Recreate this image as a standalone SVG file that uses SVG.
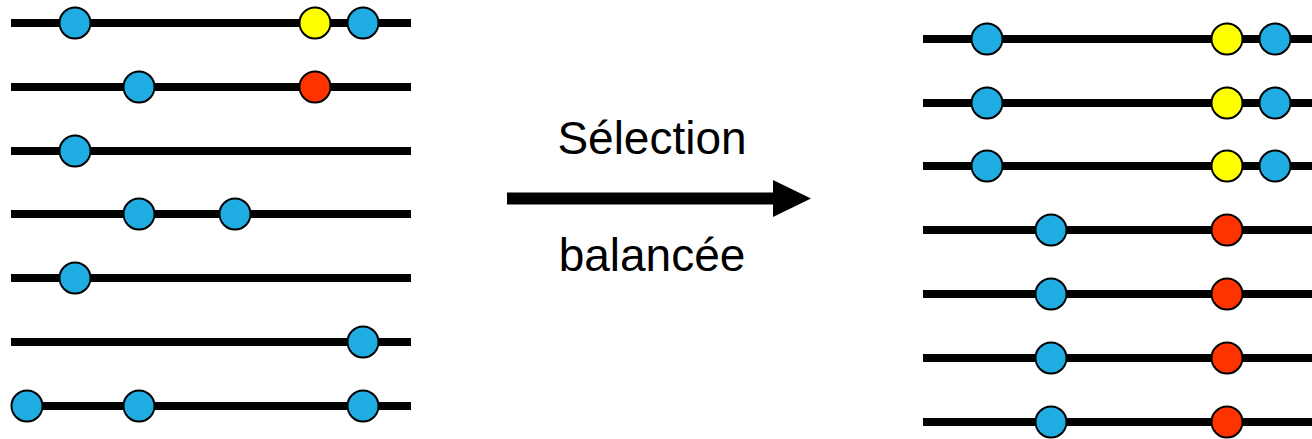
<svg xmlns="http://www.w3.org/2000/svg" width="1312" height="439" viewBox="0 0 1312 439">
  <style>
    .track { stroke: #000; stroke-width: 8; fill: none; }
    .dot { stroke: #000; stroke-width: 2; }
    .blue { fill: #1eace2; }
    .yellow { fill: #ffff00; }
    .red { fill: #ff3300; }
    .label { font-family: "Liberation Sans", Arial, sans-serif; font-size: 46px; fill: #000; text-anchor: middle; }
  </style>

  <!-- initial set of sequences -->
  <g id="left-set">
    <g id="left-row-1">
      <line class="track" x1="11" y1="23" x2="411" y2="23"/>
      <circle class="dot blue" cx="75" cy="23" r="15.5"/>
      <circle class="dot yellow" cx="315" cy="23" r="15.5"/>
      <circle class="dot blue" cx="363" cy="23" r="15.5"/>
    </g>
    <g id="left-row-2">
      <line class="track" x1="11" y1="87" x2="411" y2="87"/>
      <circle class="dot blue" cx="139" cy="87" r="15.5"/>
      <circle class="dot red" cx="315" cy="87" r="15.5"/>
    </g>
    <g id="left-row-3">
      <line class="track" x1="11" y1="151" x2="411" y2="151"/>
      <circle class="dot blue" cx="75" cy="151" r="15.5"/>
    </g>
    <g id="left-row-4">
      <line class="track" x1="11" y1="214" x2="411" y2="214"/>
      <circle class="dot blue" cx="139" cy="214" r="15.5"/>
      <circle class="dot blue" cx="235" cy="214" r="15.5"/>
    </g>
    <g id="left-row-5">
      <line class="track" x1="11" y1="278" x2="411" y2="278"/>
      <circle class="dot blue" cx="75" cy="278" r="15.5"/>
    </g>
    <g id="left-row-6">
      <line class="track" x1="11" y1="342" x2="411" y2="342"/>
      <circle class="dot blue" cx="363" cy="342" r="15.5"/>
    </g>
    <g id="left-row-7">
      <line class="track" x1="11" y1="406" x2="411" y2="406"/>
      <circle class="dot blue" cx="27" cy="406" r="15.5"/>
      <circle class="dot blue" cx="139" cy="406" r="15.5"/>
      <circle class="dot blue" cx="363" cy="406" r="15.5"/>
    </g>
  </g>

  <!-- transition arrow -->
  <g id="connectors">
    <line x1="507" y1="198.5" x2="776" y2="198.5" stroke="#000" stroke-width="12"/>
    <polygon points="773,180 811,198.5 773,217" fill="#000"/>
  </g>
  <g id="arrow-label">
    <text class="label" x="652" y="154">Sélection</text>
    <text class="label" x="652" y="271">balancée</text>
  </g>

  <!-- balanced selection result -->
  <g id="right-set">
    <g id="right-row-1">
      <line class="track" x1="923" y1="39" x2="1312" y2="39"/>
      <circle class="dot blue" cx="987" cy="39" r="15.5"/>
      <circle class="dot yellow" cx="1227" cy="39" r="15.5"/>
      <circle class="dot blue" cx="1275" cy="39" r="15.5"/>
    </g>
    <g id="right-row-2">
      <line class="track" x1="923" y1="103" x2="1312" y2="103"/>
      <circle class="dot blue" cx="987" cy="103" r="15.5"/>
      <circle class="dot yellow" cx="1227" cy="103" r="15.5"/>
      <circle class="dot blue" cx="1275" cy="103" r="15.5"/>
    </g>
    <g id="right-row-3">
      <line class="track" x1="923" y1="166" x2="1312" y2="166"/>
      <circle class="dot blue" cx="987" cy="166" r="15.5"/>
      <circle class="dot yellow" cx="1227" cy="166" r="15.5"/>
      <circle class="dot blue" cx="1275" cy="166" r="15.5"/>
    </g>
    <g id="right-row-4">
      <line class="track" x1="923" y1="230" x2="1312" y2="230"/>
      <circle class="dot blue" cx="1051" cy="230" r="15.5"/>
      <circle class="dot red" cx="1227" cy="230" r="15.5"/>
    </g>
    <g id="right-row-5">
      <line class="track" x1="923" y1="294" x2="1312" y2="294"/>
      <circle class="dot blue" cx="1051" cy="294" r="15.5"/>
      <circle class="dot red" cx="1227" cy="294" r="15.5"/>
    </g>
    <g id="right-row-6">
      <line class="track" x1="923" y1="358" x2="1312" y2="358"/>
      <circle class="dot blue" cx="1051" cy="358" r="15.5"/>
      <circle class="dot red" cx="1227" cy="358" r="15.5"/>
    </g>
    <g id="right-row-7">
      <line class="track" x1="923" y1="422" x2="1312" y2="422"/>
      <circle class="dot blue" cx="1051" cy="422" r="15.5"/>
      <circle class="dot red" cx="1227" cy="422" r="15.5"/>
    </g>
  </g>
</svg>
